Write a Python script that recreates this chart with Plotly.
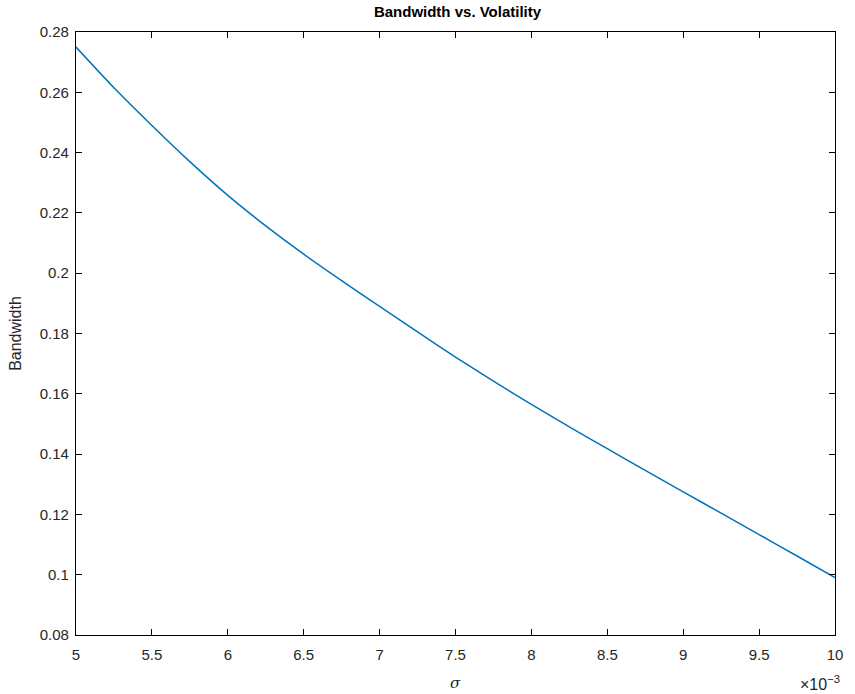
import plotly.graph_objects as go

# Volatility sigma, in units of 1e-3
sigma_e3 = [5.00, 5.25, 5.50, 5.75, 6.00, 6.25, 6.50, 6.75, 7.00, 7.25, 7.50,
            7.75, 8.00, 8.25, 8.50, 8.75, 9.00, 9.25, 9.50, 9.75, 10.00]
# Bandwidth for each volatility level
bandwidth = [0.2750, 0.2615, 0.2490, 0.2370, 0.2258, 0.2157, 0.2063, 0.1975,
             0.1890, 0.1805, 0.1722, 0.1642, 0.1565, 0.1490, 0.1418, 0.1346,
             0.1275, 0.1204, 0.1133, 0.1062, 0.0990]

x_ticks = [5, 5.5, 6, 6.5, 7, 7.5, 8, 8.5, 9, 9.5, 10]
x_tick_labels = ["5", "5.5", "6", "6.5", "7", "7.5", "8", "8.5", "9", "9.5", "10"]
y_ticks = [0.08, 0.10, 0.12, 0.14, 0.16, 0.18, 0.20, 0.22, 0.24, 0.26, 0.28]
y_tick_labels = ["0.08", "0.1", "0.12", "0.14", "0.16", "0.18", "0.2",
                 "0.22", "0.24", "0.26", "0.28"]

FONT = "Liberation Sans, Arial, Helvetica, sans-serif"
TEXT_COLOR = "#262626"

fig = go.Figure()
fig.add_trace(go.Scatter(
    x=sigma_e3, y=bandwidth, mode="lines",
    line=dict(color="#0072BD", width=1.5, shape="spline", smoothing=0.6),
    showlegend=False,
))

axis_common = dict(
    showline=True, linecolor="black", linewidth=1.3, mirror="ticks",
    ticks="inside", ticklen=6, tickwidth=1.3, tickcolor="black",
    showgrid=False, zeroline=False,
    tickfont=dict(family=FONT, size=15, color=TEXT_COLOR),
)

fig.update_layout(
    width=855, height=694,
    margin=dict(l=76, r=16, t=32, b=59),
    paper_bgcolor="white", plot_bgcolor="white",
    font=dict(family=FONT, color=TEXT_COLOR),
    title=dict(text="<b>Bandwidth vs. Volatility</b>", x=(76 + 839) / 2 / 855,
               xanchor="center", y=1 - 12 / 694, yanchor="middle",
               font=dict(family=FONT, size=15, color="black")),
    xaxis=dict(range=[5, 10], tickvals=x_ticks, ticktext=x_tick_labels,
               ticklabelstandoff=6, **axis_common),
    yaxis=dict(range=[0.08, 0.28], tickvals=y_ticks, ticktext=y_tick_labels,
               ticklabelstandoff=3,
               title=dict(text="Bandwidth", standoff=14,
                          font=dict(family=FONT, size=16, color=TEXT_COLOR)),
               **axis_common),
)

# Axis label for sigma and the shared exponent of the x ticks
fig.add_annotation(text="<i>σ</i>", xref="paper", yref="paper", x=0.5, y=-0.08,
                   xanchor="center", yanchor="middle", showarrow=False,
                   font=dict(family="DejaVu Serif, serif", size=15, color=TEXT_COLOR))
fig.add_annotation(text="×10<sup>−3</sup>", xref="paper", yref="paper", x=1.009, y=-0.08,
                   xanchor="right", yanchor="middle", showarrow=False,
                   font=dict(family=FONT, size=16, color=TEXT_COLOR))

fig.write_html("out.html")
